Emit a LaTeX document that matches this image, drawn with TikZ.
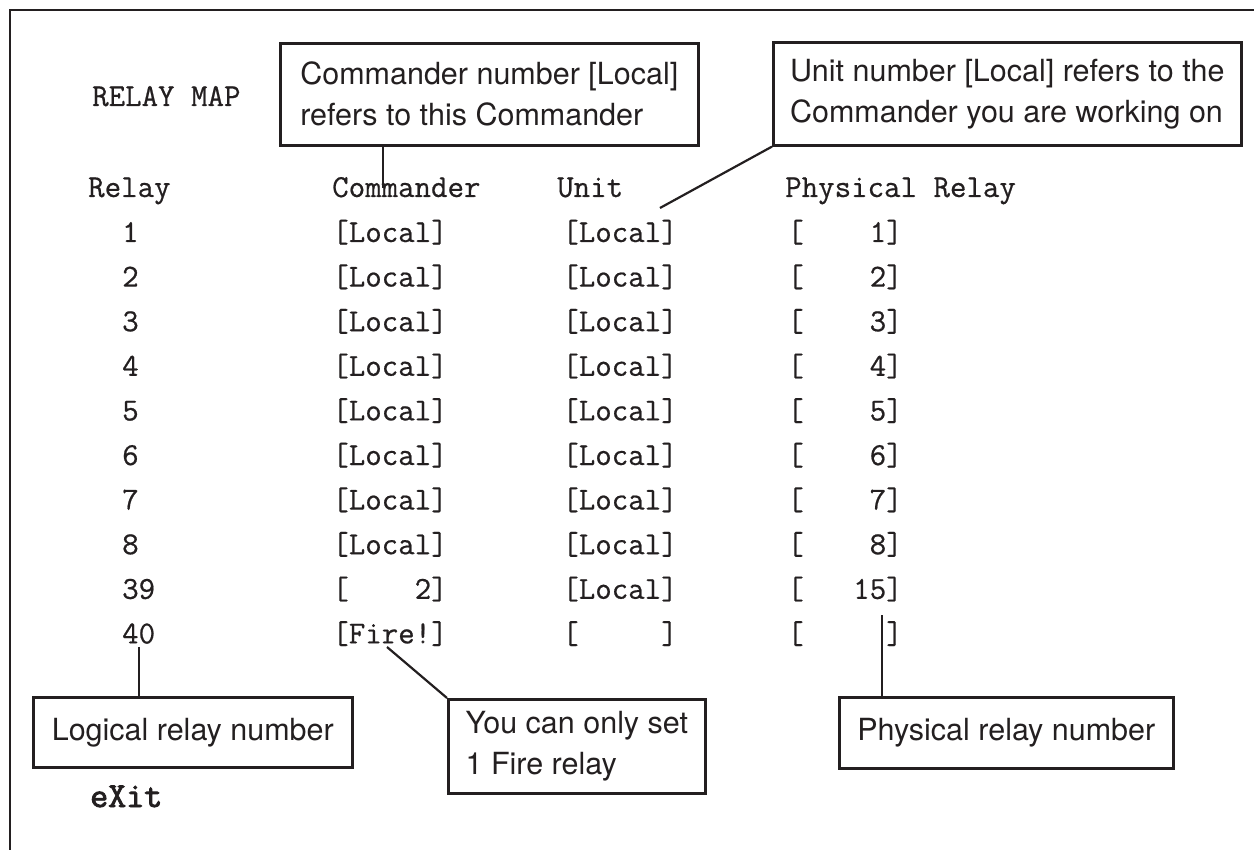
\documentclass[tikz,border=0pt]{standalone}
\usepackage{fontspec}
\setsansfont{TeX Gyre Heros}
\setmonofont[FakeBold=0.6]{Latin Modern Mono}
\newfontfamily\grasfont[FakeBold=2.5]{Latin Modern Mono}
\definecolor{ink}{HTML}{231F20}
\tikzset{
  note/.style={draw, line width=2.6pt, anchor=north west, align=left, inner sep=0pt,
    font=\sffamily\fontsize{30.5}{41}\selectfont},
  cell/.style={anchor=base west, inner sep=3pt, font=\ttfamily\fontsize{32}{32}\selectfont},
  val/.style={cell, anchor=base},
  lien/.style={line width=2.2pt},
}

\begin{document}
\begin{tikzpicture}[x=1pt, y=-1pt, color=ink]
  \useasboundingbox (0,0) rectangle (1254,850);
  % cadre
  \draw[line width=2.6pt] (10,850) -- (10,10) -- (1254,10);

  % titres
  \node[cell] (titre) at (89,106) {RELAY MAP};
  \node[cell] (hrelay) at (85,197) {Relay};
  \node[cell] (hcmd) at (329,197) {Commander};
  \node[cell] (hunit) at (554,197) {Unit};
  \node[cell] (hphys) at (782,197) {Physical Relay};

  % lignes 1 a 8
  \foreach \r in {1,...,8}{
    \pgfmathsetmacro\yy{242+(\r-1)*44.6}
    \node[cell] (num\r) at (119,\yy) {\r};
    \node[val] (cmd\r) at (390,\yy) {[Local]};
    \node[val] (unit\r) at (620,\yy) {[Local]};
    \node[val] (phys\r) at (845,\yy) {[\hphantom{0000}\r]};
  }
  \node[cell] (num39) at (119,598.8) {39};
  \node[val] (cmd39) at (390,598.8) {[\hphantom{0000}2]};
  \node[val] (unit39) at (620,598.8) {[Local]};
  \node[val] (phys39) at (845,598.8) {[\hphantom{000}15]};
  \node[cell] (num40) at (119,643.4) {40};
  \node[val] (cmd40) at (390,643.4) {[Fire!]};
  \node[val] (unit40) at (620,643.4) {[\hphantom{00000}]};
  \node[val] (phys40) at (845,643.4) {[\hphantom{00000}]};

  \node[cell, font=\grasfont\fontsize{35}{35}\selectfont] (exit) at (87,807) {eXit};

  % bulles
  \node[note, minimum width=418pt, minimum height=102pt] (cmdnote) at (279,42)
    {Commander number [Local]\\refers to this Commander};
  \node[note, minimum width=468pt, minimum height=103pt] (unitnote) at (772,41)
    {Unit number [Local] refers to the\\Commander you are working on};
  \node[note, minimum width=319pt, minimum height=70pt] (lognote) at (32,696)
    {Logical relay number};
  \node[note, minimum width=257pt, minimum height=94pt] (firenote) at (447,698)
    {You can only set\\1 Fire relay};
  \node[note, minimum width=334pt, minimum height=71pt] (physnote) at (838,696)
    {Physical relay number};

  % traits
  \coordinate (cmdpt) at (383,188);
  \coordinate (unitpt) at (660,208);
  \coordinate (firept) at (387,647);
  \coordinate (physpt) at (882,615);
  \draw[lien] (cmdpt |- cmdnote.south) -- (cmdpt);
  \draw[lien] (unitnote.south west) -- (unitpt);
  \draw[lien] (num40.south) -- (num40.south |- lognote.north);
  \draw[lien] (firept) -- (firenote.north west);
  \draw[lien] (physpt) -- (physpt |- physnote.north);
\end{tikzpicture}
\end{document}
